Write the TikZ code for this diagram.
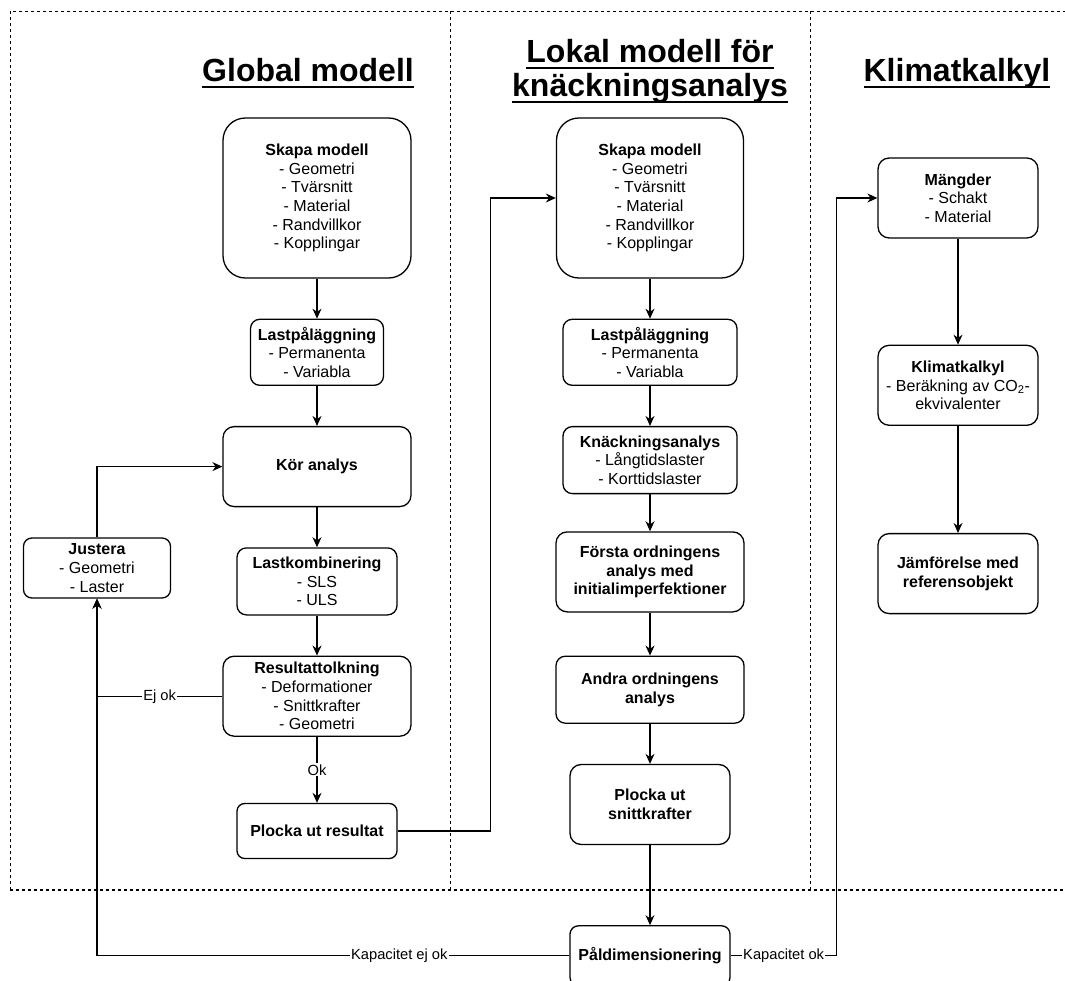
\documentclass[tikz,border=0pt]{standalone}
\usepackage{fontspec}
\setmainfont{Liberation Sans}
\usetikzlibrary{arrows.meta, positioning}
\newsavebox\ulbox
\newcommand\ulined[1]{\sbox\ulbox{#1}\rlap{\rule[-6pt]{\wd\ulbox}{2pt}}\usebox\ulbox}
\tikzset{
  box/.style 2 args={rectangle, rounded corners=0.14*#2, draw, line width=1.3pt,
              align=center, minimum width=#1, minimum height=#2, inner sep=2pt,
              font=\fontsize{16}{18.7}\selectfont},
  arrow/.style={-{Stealth[length=10pt,width=9pt]}, line width=1.3pt},
  edgelabel/.style={fill=white, inner sep=1pt, font=\fontsize{14.7}{16}\selectfont},
  titletext/.style={align=center, font=\fontsize{32}{34}\selectfont\bfseries},
  frame/.style={dash pattern=on 3pt off 3pt, line width=0.9pt},
}
\begin{document}
\begin{tikzpicture}[x=1pt, y=-1pt]
    \useasboundingbox (0,0) rectangle (1065,981);
    \clip (0,0) rectangle (1065,981);
    \draw[frame] (10,890) -- (10,11) -- (1065,11);
    \draw[frame, line width=1.2pt] (10,890) -- (1065,890);
    \draw[frame] (450,11) -- (450,890);
    \draw[frame] (810,11) -- (810,890);

    \node[titletext, anchor=base] (gtitle) at (308,82) {\ulined{Global modell}};
    \node[titletext, anchor=base] (ltitle) at (650,97) {\ulined{Lokal modell för}\\\ulined{knäckningsanalys}};
    \node[titletext, anchor=base] (ktitle) at (957,82) {\ulined{Klimatkalkyl}};

    % global modell
    \node[box={188pt}{160pt}] (gskapa) at (317,198) {
      \textbf{Skapa modell}\\- Geometri\\- Tvärsnitt\\- Material\\- Randvillkor\\- Kopplingar
    };
    \node[box={133pt}{66pt}, below=40pt of gskapa] (glast) {
      \textbf{Lastpåläggning}\\- Permanenta\\- Variabla
    };
    \node[box={188pt}{80pt}, below=40pt of glast] (gkor) {\textbf{Kör analys}};
    \node[box={160pt}{67pt}, below=40pt of gkor] (gkomb) {
      \textbf{Lastkombinering}\\- SLS\\- ULS
    };
    \node[box={188pt}{80pt}, below=40pt of gkomb] (gres) {
      \textbf{Resultattolkning}\\- Deformationer\\- Snittkrafter\\- Geometri
    };
    \node[box={160pt}{55pt}, below=66pt of gres] (gplocka) {\textbf{Plocka ut resultat}};
    \node[box={147pt}{60pt}] (justera) at (97,568) {
      \textbf{Justera}\\- Geometri\\- Laster
    };

    % lokal modell
    \node[box={187pt}{160pt}] (lskapa) at (650,198) {
      \textbf{Skapa modell}\\- Geometri\\- Tvärsnitt\\- Material\\- Randvillkor\\- Kopplingar
    };
    \node[box={174pt}{66pt}, below=40pt of lskapa] (llast) {
      \textbf{Lastpåläggning}\\- Permanenta\\- Variabla
    };
    \node[box={174pt}{67pt}, below=40pt of llast] (lknack) {
      \textbf{Knäckningsanalys}\\- Långtidslaster\\- Korttidslaster
    };
    \node[box={188pt}{80pt}, below=37pt of lknack] (lforsta) {
      \textbf{Första ordningens}\\\textbf{analys med}\\\textbf{initialimperfektioner}
    };
    \node[box={188pt}{67pt}, below=43pt of lforsta] (landra) {
      \textbf{Andra ordningens}\\\textbf{analys}
    };
    \node[box={160pt}{80pt}, below=40pt of landra] (lplocka) {
      \textbf{Plocka ut}\\\textbf{snittkrafter}
    };
    \node[box={160pt}{60pt}, below=80pt of lplocka] (pal) {\textbf{Påldimensionering}};

    % klimatkalkyl
    \node[box={160pt}{80pt}] (mangder) at (958,198) {
      \textbf{Mängder}\\- Schakt\\- Material
    };
    \node[box={160pt}{80pt}, below=106pt of mangder] (klimat) {
      \textbf{Klimatkalkyl}\\- Beräkning av CO\textsubscript{2}-\\ekvivalenter
    };
    \node[box={160pt}{80pt}, below=107pt of klimat] (jamfor) {
      \textbf{Jämförelse med}\\\textbf{referensobjekt}
    };

    \draw[arrow] (gskapa) -- (glast);
    \draw[arrow] (glast) -- (gkor);
    \draw[arrow] (gkor) -- (gkomb);
    \draw[arrow] (gkomb) -- (gres);
    \draw[arrow] (gres) -- node[edgelabel] {Ok} (gplocka);
    \draw[arrow] (gres.west) -| node[edgelabel, pos=0.25] {Ej ok} (justera.south);
    \draw[arrow] (justera.north) |- (gkor.west);
    \draw[arrow] (gplocka.east) -- ++(93,0) |- (lskapa.west);

    \draw[arrow] (lskapa) -- (llast);
    \draw[arrow] (llast) -- (lknack);
    \draw[arrow] (lknack) -- (lforsta);
    \draw[arrow] (lforsta) -- (landra);
    \draw[arrow] (landra) -- (lplocka);
    \draw[arrow] (lplocka) -- (pal);
    \draw[arrow] (pal.west) -| node[edgelabel, pos=0.18] {Kapacitet ej ok} (justera.south);
    \draw[arrow] (pal.east) -- node[edgelabel] {Kapacitet ok} ++(106,0) |- (mangder.west);

    \draw[arrow] (mangder) -- (klimat);
    \draw[arrow] (klimat) -- (jamfor);
\end{tikzpicture}
\end{document}
